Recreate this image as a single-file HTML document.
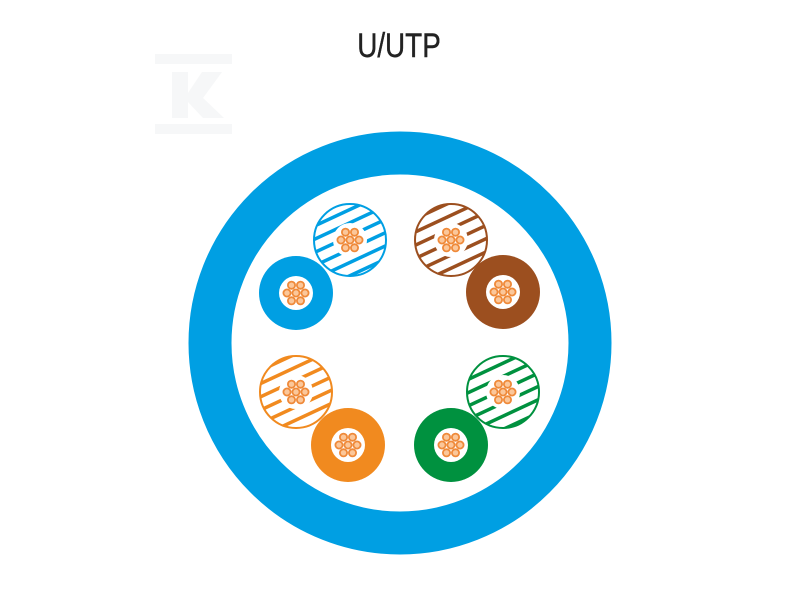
<!DOCTYPE html>
<html><head><meta charset="utf-8"><style>
html,body{margin:0;padding:0;background:#fff;width:800px;height:600px;overflow:hidden}
</style></head><body>
<svg width="800" height="600" viewBox="0 0 800 600" xmlns="http://www.w3.org/2000/svg">
<defs>
<pattern id="pb" width="12" height="12" patternUnits="userSpaceOnUse" patternTransform="rotate(-25)"><rect width="12" height="12" fill="#fff"/><rect width="12" height="3.5" fill="#009fe3"/></pattern>
<pattern id="pbr" width="12" height="12" patternUnits="userSpaceOnUse" patternTransform="rotate(-25)"><rect width="12" height="12" fill="#fff"/><rect width="12" height="3.5" fill="#9c4f1f"/></pattern>
<pattern id="po" width="12" height="12" patternUnits="userSpaceOnUse" patternTransform="rotate(-25)"><rect width="12" height="12" fill="#fff"/><rect width="12" height="3.5" fill="#f18a1f"/></pattern>
<pattern id="pg" width="12" height="12" patternUnits="userSpaceOnUse" patternTransform="rotate(-25)"><rect width="12" height="12" fill="#fff"/><rect width="12" height="3.5" fill="#00913f"/></pattern>
<g id="core">
<circle r="17" fill="#fff"/>
<g fill="#fbc79a" stroke="#ef8a3a" stroke-width="1.8">
<circle r="3.6"/>
<circle cx="9" r="3.6"/><circle cx="-9" r="3.6"/>
<circle cx="4.5" cy="7.8" r="3.6"/><circle cx="-4.5" cy="7.8" r="3.6"/>
<circle cx="4.5" cy="-7.8" r="3.6"/><circle cx="-4.5" cy="-7.8" r="3.6"/>
</g>
</g>
</defs>
<g fill="#f6f7f8">
<rect x="155" y="54" width="77" height="10"/>
<rect x="155" y="124" width="77" height="10"/>
<polygon points="172,72 188,72 188,93 202,72 222,72 203,98 224,118 203,118 188,102 188,118 172,118"/>
</g>
<text x="399" y="57" text-anchor="middle" font-family="Liberation Sans, sans-serif" font-size="34" fill="#222" stroke="#222" stroke-width="0.4" transform="translate(399 0) scale(0.82 1) translate(-399 0)">U/UTP</text>
<circle cx="400" cy="343" r="190" fill="none" stroke="#009fe3" stroke-width="43"/>
<circle cx="350" cy="240" r="36" fill="url(#pb)" stroke="#009fe3" stroke-width="2"/>
<use href="#core" x="350" y="240"/>
<circle cx="296" cy="293" r="37" fill="#009fe3"/>
<use href="#core" x="296" y="293"/>
<circle cx="451" cy="240" r="36" fill="url(#pbr)" stroke="#9c4f1f" stroke-width="2"/>
<use href="#core" x="451" y="240"/>
<circle cx="503" cy="292" r="37" fill="#9c4f1f"/>
<use href="#core" x="503" y="292"/>
<circle cx="296" cy="392" r="36" fill="url(#po)" stroke="#f18a1f" stroke-width="2"/>
<use href="#core" x="296" y="392"/>
<circle cx="348" cy="445" r="37" fill="#f18a1f"/>
<use href="#core" x="348" y="445"/>
<circle cx="503" cy="392" r="36" fill="url(#pg)" stroke="#00913f" stroke-width="2"/>
<use href="#core" x="503" y="392"/>
<circle cx="451" cy="445" r="37" fill="#00913f"/>
<use href="#core" x="451" y="445"/>
</svg>
</body></html>
